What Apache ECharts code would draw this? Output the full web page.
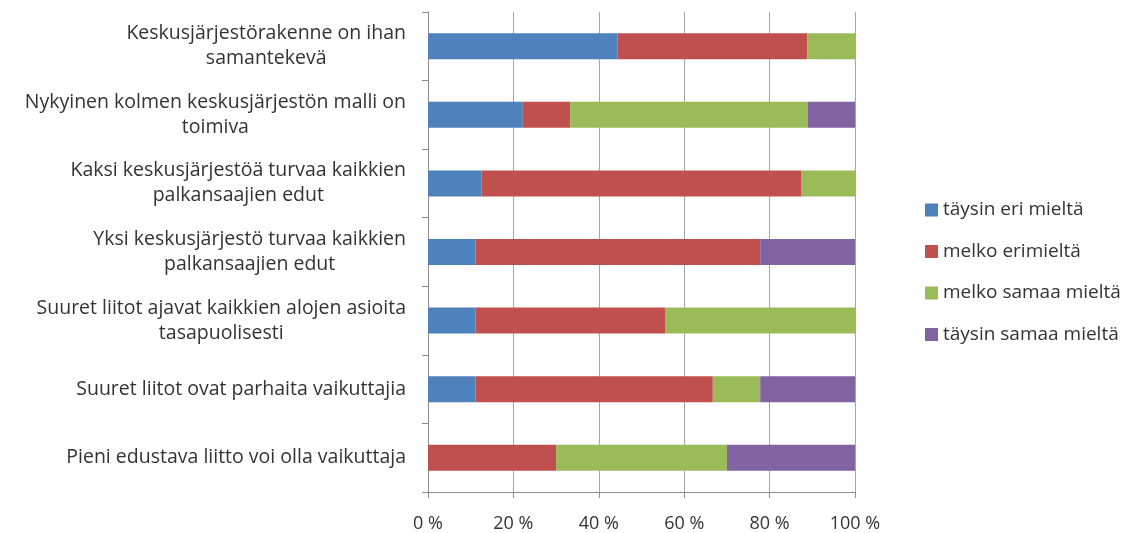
<!DOCTYPE html>
<html>
<head>
<meta charset="utf-8">
<script src="https://cdn.jsdelivr.net/npm/echarts@6/dist/echarts.min.js"></script>
<style>
  html, body { margin: 0; padding: 0; background: #fff; }
  #chart { width: 1138px; height: 533px; }
</style>
</head>
<body>
<div id="chart"></div>
<script>
var categories = [
  'Keskusjärjestörakenne on ihan\nsamantekevä',
  'Nykyinen kolmen keskusjärjestön malli on\ntoimiva',
  'Kaksi keskusjärjestöä turvaa kaikkien\npalkansaajien edut',
  'Yksi keskusjärjestö turvaa kaikkien\npalkansaajien edut',
  'Suuret liitot ajavat kaikkien alojen asioita\ntasapuolisesti',
  'Suuret liitot ovat parhaita vaikuttajia',
  'Pieni edustava liitto voi olla vaikuttaja'
];
var seriesNames = ['täysin eri mieltä', 'melko erimieltä', 'melko samaa mieltä', 'täysin samaa mieltä'];
// values in percent, one per category (top to bottom)
var taysinEri = [44.4, 22.2, 12.5, 11.1, 11.1, 11.1, 0];
var melkoEri = [44.4, 11.1, 75.0, 66.7, 44.4, 55.6, 30];
var melkoSamaa = [11.2, 55.6, 12.5, 0, 44.5, 11.1, 40];
var taysinSamaa = [0, 11.1, 0, 22.2, 0, 22.2, 30];
var colors = ['#4F81BD', '#C0504D', '#9BBB59', '#8064A2'];

var font = 'Open Sans';
var chart = echarts.init(document.getElementById('chart'));

var seriesData = [taysinEri, melkoEri, melkoSamaa, taysinSamaa];
var series = seriesData.map(function (vals, i) {
  return {
    name: seriesNames[i],
    type: 'bar',
    stack: 'total',
    barWidth: 26,
    itemStyle: { color: colors[i] },
    data: vals
  };
});

chart.setOption({
  animation: false,
  textStyle: { fontFamily: font },
  grid: { left: 428, right: 283, top: 12, bottom: 39 },
  legend: {
    orient: 'vertical',
    left: 920,
    top: 195,
    icon: 'rect',
    itemWidth: 13,
    itemHeight: 13,
    itemGap: 21.5,
    data: seriesNames,
    textStyle: { fontFamily: font, fontSize: 19, color: '#333', lineHeight: 20 }
  },
  xAxis: {
    type: 'value',
    min: 0,
    max: 100,
    interval: 20,
    axisLine: { show: true, lineStyle: { color: '#8c8c8c' } },
    axisTick: { show: true, length: 6, lineStyle: { color: '#8c8c8c' } },
    splitLine: { lineStyle: { color: '#a6a6a6' } },
    axisLabel: { formatter: '{value} %', fontSize: 18, color: '#333', margin: 23 }
  },
  yAxis: {
    type: 'category',
    inverse: true,
    data: categories,
    axisLine: { show: true, lineStyle: { color: '#8c8c8c' } },
    axisTick: { show: true, length: 6, lineStyle: { color: '#8c8c8c' } },
    axisLabel: {
      margin: 22,
      fontSize: 19.5,
      color: '#333',
      formatter: function (v) {
        return v.split('\n').map(function (s) { return '{c|' + s + '}'; }).join('\n');
      },
      rich: {
        c: { align: 'center', fontFamily: font, fontSize: 19.5, color: '#333', lineHeight: 25 }
      }
    }
  },
  series: series
});
</script>
</body>
</html>
